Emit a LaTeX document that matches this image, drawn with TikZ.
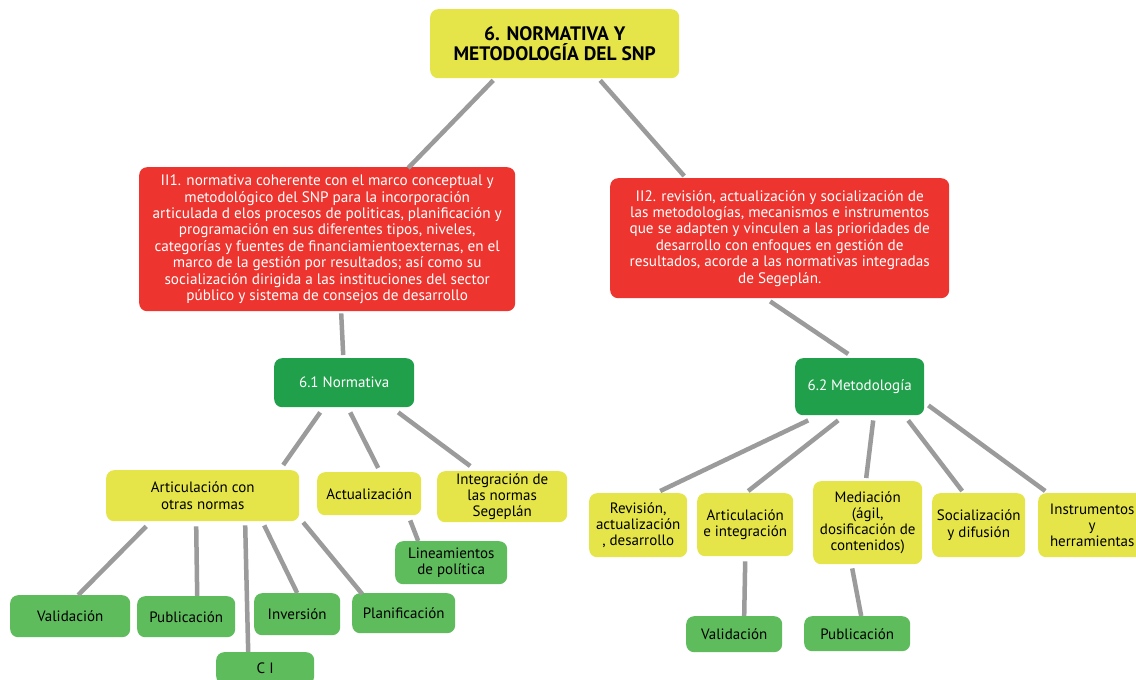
\documentclass[tikz,border=0pt]{standalone}
\usepackage{fontspec}
\setmainfont{PT Sans}
\definecolor{ylw}{RGB}{229,229,74}
\definecolor{redb}{RGB}{237,52,46}
\definecolor{dgreen}{RGB}{32,160,75}
\definecolor{lgreen}{RGB}{94,188,92}
\definecolor{conc}{RGB}{155,155,155}
\tikzset{
  box/.style={rounded corners=8pt, anchor=north west, align=center, inner sep=1pt, font=\fontsize{15}{16.2}\selectfont, text=black},
  ybox/.style={box, fill=ylw},
  rbox/.style={box, fill=redb, text=white, font=\fontsize{15.2}{16.4}\selectfont},
  dbox/.style={box, fill=dgreen, text=white},
  gbox/.style={box, fill=lgreen},
  con/.style={draw=conc, line width=4.5pt}
}
\begin{document}
\begin{tikzpicture}[x=1pt,y=-1pt]
\useasboundingbox (0,0) rectangle (1136,680);
\clip (0,0) rectangle (1136,680);
\fill[white] (0,0) rectangle (1136,680);
% nodes
\node[ybox, minimum width=249pt, minimum height=69pt, font=\fontsize{19.5}{20.5}\selectfont\bfseries] (title) at (430,9) {6. NORMATIVA Y\\METODOLOGÍA DEL SNP};
\node[rbox, minimum width=376pt, minimum height=144pt] (red1) at (139,167) {II1. normativa coherente con el marco conceptual y\\metodológico del SNP para la incorporación\\articulada d elos procesos de politicas, planificación y\\programación en sus diferentes tipos, niveles,\\categorías y fuentes de financiamientoexternas, en el\\marco de la gestión por resultados; así como su\\socialización dirigida a las instituciones del sector\\público y sistema de consejos de desarrollo};
\node[rbox, minimum width=339pt, minimum height=120pt] (red2) at (610,178) {II2. revisión, actualización y socialización de\\las metodologías, mecanismos e instrumentos\\que se adapten y vinculen a las prioridades de\\desarrollo con enfoques en gestión de\\resultados, acorde a las normativas integradas\\de Segeplán.};
\node[dbox, minimum width=140pt, minimum height=49pt] (n61) at (274,358) {6.1 Normativa};
\node[dbox, minimum width=129pt, minimum height=57pt] (n62) at (795,358) {6.2 Metodología};
\node[ybox, minimum width=193pt, minimum height=51pt] (art) at (106,470) {Articulación con\\otras normas};
\node[ybox, minimum width=104pt, minimum height=43pt] (act) at (317,472) {Actualización};
\node[ybox, minimum width=130pt, minimum height=51pt] (integ) at (437,471) {Integración de\\las normas\\Segeplán};
\node[gbox, minimum width=112pt, minimum height=43pt] (lin) at (395,541) {Lineamientos\\de política};
\node[gbox, minimum width=120pt, minimum height=42pt] (val) at (10,595) {Validación};
\node[gbox, minimum width=98pt, minimum height=41pt] (pub) at (137,596) {Publicación};
\node[gbox, minimum width=98pt, minimum height=32pt] (ci) at (216,652) {C I};
\node[gbox, minimum width=86pt, minimum height=42pt] (inv) at (254,593) {Inversión};
\node[gbox, minimum width=103pt, minimum height=40pt] (plan) at (352,593) {Planificación};
\node[ybox, minimum width=98pt, minimum height=64pt] (rev) at (589,493) {Revisión,\\actualización\\, desarrollo};
\node[ybox, minimum width=96pt, minimum height=63pt] (arti) at (697,493) {Articulación\\e integración};
\node[ybox, minimum width=109pt, minimum height=83pt] (med) at (813,481) {Mediación\\(ágil,\\dosificación de\\contenidos)};
\node[ybox, minimum width=93pt, minimum height=64pt] (soc) at (932,493) {Socialización\\y difusión};
\node[ybox, minimum width=108pt, minimum height=64pt] (ins) at (1038,493) {Instrumentos\\y\\herramientas};
\node[gbox, minimum width=96pt, minimum height=36pt] (val2) at (686,616) {Validación};
\node[gbox, minimum width=106pt, minimum height=35pt] (pub2) at (804,616) {Publicación};
% connectors
\draw[con] ([shift={(-61.5,2)}]title.south) -- ([shift={(81,1)}]red1.north);
\draw[con] ([shift={(45.5,2)}]title.south) -- ([shift={(-95.5,-2)}]red2.north);
\draw[con] ([shift={(14,2)}]red1.south) -- ([shift={(-1,-3)}]n61.north);
\draw[con] ([shift={(-9.5,3)}]red2.south) -- ([shift={(-11.5,-4)}]n62.north);
\draw[con] ([shift={(-24,5)}]n61.south) -- ([shift={(80.5,-5)}]art.north);
\draw[con] ([shift={(6,5)}]n61.south) -- ([shift={(9,-4)}]act.north);
\draw[con] ([shift={(54,5)}]n61.south) -- ([shift={(-32,-5)}]integ.north);
\draw[con] ([shift={(-56.5,5)}]art.south) -- ([shift={(8,0)}]val.north);
\draw[con] ([shift={(-6.5,5)}]art.south) -- ([shift={(11,0)}]pub.north);
\draw[con] ([shift={(42.5,4)}]art.south) -- ([shift={(-17,0)}]ci.north);
\draw[con] ([shift={(61.5,4)}]art.south) -- (inv.north);
\draw[con] ([shift={(100.5,1)}]art.south) -- ([shift={(-41.5,1)}]plan.north);
\draw[con] ([shift={(41,5)}]act.south) -- ([shift={(-33,0)}]lin.north);
\draw[con] ([shift={(-51.5,5)}]n62.south) -- ([shift={(22,-2)}]rev.north);
\draw[con] ([shift={(-21.5,5)}]n62.south) -- ([shift={(3,-2)}]arti.north);
\draw[con] ([shift={(13.5,5)}]n62.south) -- ([shift={(-1.5,-3)}]med.north);
\draw[con] ([shift={(48.5,5)}]n62.south) -- ([shift={(-16.5,-2)}]soc.north);
\draw[con] ([shift={(4,-10)}]n62.south east) -- ([shift={(-47,-2)}]ins.north);
\draw[con] ([shift={(0,5)}]arti.south) -- ([shift={(10,0)}]val2.north);
\draw[con] ([shift={(-15.5,4)}]med.south) -- ([shift={(4,0)}]pub2.north);
\end{tikzpicture}
\end{document}
